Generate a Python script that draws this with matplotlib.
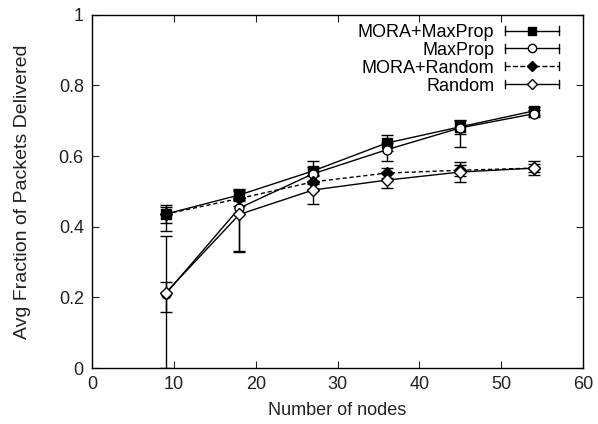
import matplotlib.pyplot as plt
from matplotlib.legend_handler import HandlerBase
from matplotlib.lines import Line2D

plt.rcParams['font.family'] = ['Liberation Sans', 'DejaVu Sans']

nodes = [9, 18, 27, 36, 45, 54]

mora_maxprop = [0.436, 0.490, 0.558, 0.637, 0.683, 0.728]
mora_maxprop_lo = [0.026, 0.017, 0.028, 0.022, 0.020, 0.012]
mora_maxprop_hi = [0.026, 0.017, 0.028, 0.022, 0.020, 0.012]

maxprop = [0.210, 0.453, 0.550, 0.618, 0.680, 0.720]
maxprop_lo = [0.210, 0.125, 0.030, 0.032, 0.055, 0.010]
maxprop_hi = [0.164, 0.050, 0.020, 0.020, 0.020, 0.010]

mora_random = [0.436, 0.480, 0.527, 0.552, 0.560, 0.566]
mora_random_lo = [0.048, 0.020, 0.020, 0.015, 0.015, 0.012]
mora_random_hi = [0.020, 0.020, 0.020, 0.015, 0.015, 0.012]

random_ = [0.213, 0.435, 0.504, 0.532, 0.555, 0.566]
random_lo = [0.054, 0.105, 0.040, 0.022, 0.028, 0.019]
random_hi = [0.030, 0.040, 0.040, 0.022, 0.028, 0.019]

labels = ['MORA+MaxProp', 'MaxProp', 'MORA+Random', 'Random']


class ErrLineHandler(HandlerBase):
    # gnuplot style key sample: horizontal line, caps at the ends, marker mid
    def create_artists(self, legend, orig, xd, yd, w, h, fontsize, trans):
        y = h / 2 - yd
        x0, x1 = -xd, -xd + w
        line = Line2D([x0, x1], [y, y], color='black', lw=1,
                      linestyle=orig.get_linestyle())
        capl = Line2D([x0, x0], [y - 3, y + 3], color='black', lw=1)
        capr = Line2D([x1, x1], [y - 3, y + 3], color='black', lw=1)
        mk = Line2D([(x0 + x1) / 2], [y], marker=orig.get_marker(),
                    markersize=orig.get_markersize(),
                    markerfacecolor=orig.get_markerfacecolor(),
                    markeredgecolor='black', linestyle='none')
        arts = [line, capl, capr, mk]
        for a in arts:
            a.set_transform(trans)
        return arts


fig = plt.figure(figsize=(5.98, 4.24), dpi=100)
ax = fig.add_axes([0.154, 0.132, 0.821, 0.833])

styles = [
    (mora_maxprop, [mora_maxprop_lo, mora_maxprop_hi], 's', 'black', '-', 6.5),
    (maxprop, [maxprop_lo, maxprop_hi], 'o', 'white', '-', 6.5),
    (mora_random, [mora_random_lo, mora_random_hi], 'D', 'black', (0, (3, 2)), 6),
    (random_, [random_lo, random_hi], 'D', 'white', '-', 6),
]

handles = []
for (ys, err, mk, fc, ls, ms), lab in zip(styles, labels):
    ax.errorbar(nodes, ys, yerr=err, color='black', lw=1, linestyle=ls,
                marker=mk, markersize=ms, markerfacecolor=fc,
                markeredgecolor='black', capsize=4, elinewidth=1)
    handles.append(Line2D([], [], color='black', linestyle=ls, marker=mk,
                          markersize=ms - 0.5, markerfacecolor=fc, label=lab))

ax.set_xlim(0, 60)
ax.set_ylim(0, 1)
ax.set_xticks([0, 10, 20, 30, 40, 50, 60])
ax.set_yticks([0, 0.2, 0.4, 0.6, 0.8, 1])
ax.set_yticklabels(['0', '0.2', '0.4', '0.6', '0.8', '1'])
ax.tick_params(direction='in', top=True, right=True, labelsize=13,
               length=5, colors='#222222', pad=6)
for s in ax.spines.values():
    s.set_linewidth(1)
ax.set_xlabel('Number of nodes', fontsize=13, color='#222222', labelpad=6)
ax.set_ylabel('Avg Fraction of Packets Delivered', fontsize=14,
              color='#222222', labelpad=20)

ax.legend(handles=handles, loc='upper right', frameon=False, markerfirst=False,
          fontsize=13, handlelength=3.0, handletextpad=0.6,
          labelspacing=0.05, borderaxespad=0.0,
          bbox_to_anchor=(0.966, 0.995),
          handler_map={Line2D: ErrLineHandler()})

plt.savefig('out.png')
